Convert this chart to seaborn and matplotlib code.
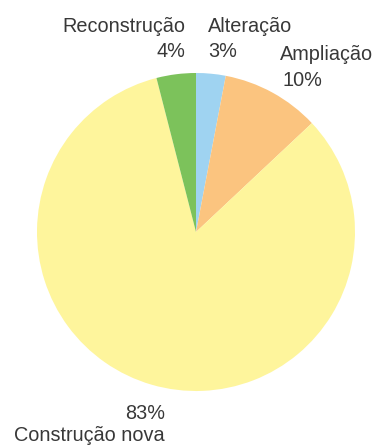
import matplotlib
matplotlib.use("Agg")
import matplotlib.pyplot as plt
import seaborn as sns

sns.set_theme(style="white")
plt.rcParams['font.family'] = ['Liberation Sans', 'DejaVu Sans']

categories = ["Alteração", "Ampliação", "Construção nova", "Reconstrução"]
values = [3, 10, 83, 4]
colors = sns.color_palette(["#9fd3f1", "#fbc47f", "#fef59c", "#7cc25b"])

fig = plt.figure(figsize=(3.81, 4.45), dpi=100)
ax = fig.add_axes([0, 0, 1, 1])
cx, cy, r = 196, 232, 159
W, H = 381, 445
ax.pie(values, colors=colors, startangle=90, counterclock=False,
       wedgeprops=dict(linewidth=0))
ax.set_xlim(-cx / r, (W - cx) / r)
ax.set_ylim(-(H - cy) / r, cy / r)
ax.set_aspect('auto')
ax.axis('off')

def px(x, y):
    return (x - cx) / r, (cy - y) / r

tc = "#383838"
fs = 14.3
def lab(x, y, s, ha):
    ax.text(*px(x, y), s, ha=ha, va='baseline', fontsize=fs, color=tc)

lab(185, 32, "Reconstrução", 'right')
lab(185, 57, f"{values[3]}%", 'right')
lab(208, 32, "Alteração", 'left')
lab(208, 57, f"{values[0]}%", 'left')
lab(280, 60, "Ampliação", 'left')
lab(282, 86, f"{values[1]}%", 'left')
lab(165, 419, f"{values[2]}%", 'right')
lab(165, 441, "Construção nova", 'right')

fig.savefig("out.png", dpi=100)
